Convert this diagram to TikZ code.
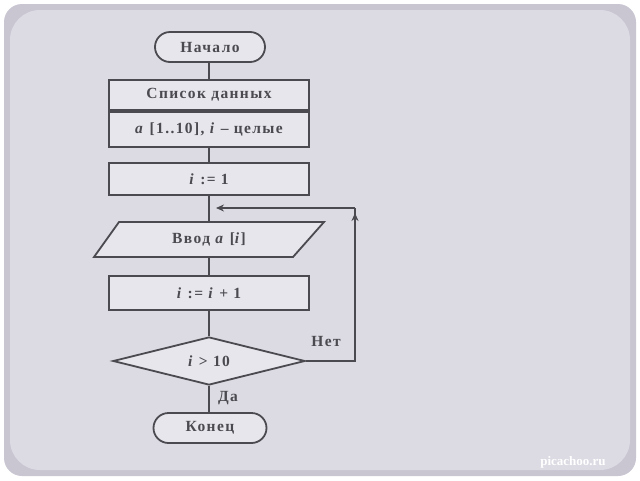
\documentclass[tikz,border=0pt]{standalone}
\usepackage{fontspec}
\setmainfont{Liberation Serif}
\usetikzlibrary{shapes.geometric,arrows.meta}
\definecolor{ink}{HTML}{4A4A50}
\definecolor{paper}{HTML}{DCDBE3}
\definecolor{boxfill}{HTML}{E6E6EC}
\definecolor{photo}{HTML}{C9C6D2}
\tikzset{
  lbl/.style={font=\fontsize{15.5}{18}\selectfont\bfseries\addfontfeature{LetterSpace=9}, text=ink},
  proc/.style={draw=ink, line width=1.8pt, fill=boxfill, minimum width=200pt, lbl},
  term/.style={draw=ink, line width=1.8pt, fill=boxfill, rounded corners=15pt, minimum height=30pt, lbl},
  dec/.style={draw=ink, line width=1.8pt, fill=boxfill, diamond, aspect=4, minimum width=192pt, minimum height=48pt, inner sep=0pt, lbl},
  shapeline/.style={draw=ink, line width=1.8pt, fill=boxfill},
  flow/.style={draw=ink, line width=1.6pt},
  arr/.style={flow, -{Stealth[length=8pt,width=7pt]}}
}
\begin{document}
\begin{tikzpicture}[x=1pt,y=-1pt]
\useasboundingbox (0,0) rectangle (640,480);
\fill[white] (0,0) rectangle (640,480);
\fill[photo, rounded corners=18pt] (4,4) rectangle (636,476);
\fill[paper, rounded corners=30pt] (10,10) rectangle (630,470);
% nodes
\node[term, minimum width=110pt] (start) at (210,47) {Начало};
\node[proc, minimum height=30pt] (list1) at (209,95) {Список данных};
\node[proc, minimum height=35pt, anchor=north] (list2) at (list1.south) {\textit{a} [1..10], \textit{i} – целые};
\node[proc, minimum height=32pt] (init) at (209,179) {\textit{i} := 1};
\path[shapeline] (119,222) -- (324,222) -- (293,257) -- (94,257) -- cycle;
\node[lbl, minimum height=35pt] (input) at (209,239.5) {Ввод \textit{a} [\textit{i}]};
\node[proc, minimum height=34pt] (inc) at (209,293) {\textit{i} := \textit{i} + 1};
\node[dec] (cond) at (209,361) {\textit{i} > 10};
\node[term, minimum width=113pt] (stop) at (210,428) {Конец};
\coordinate (j) at (216,208);
\coordinate (r) at (355,361);
\coordinate (rt) at (355,208);
% connectors
\draw[flow] (start.south -| list1.north) -- (list1.north);
\draw[flow] (list2.south) -- (init.north);
\draw[flow] (init.south) -- (input.north);
\draw[flow] (input.south) -- (inc.north);
\draw[flow] (inc.south) -- (cond.north);
\draw[flow] (cond.south) -- (stop.north -| cond.south);
\draw[flow] (cond.east) -- (r) -- (rt);
\draw[arr] (r) -- (355,213);
\draw[arr] (rt) -- (j);
% labels
\node[lbl] (no) at (326,341) {Нет};
\node[lbl] (yes) at (228,398) {Да};
\node[font=\fontsize{13}{15}\selectfont\bfseries, text=white, draw=none] (wm) at (573,462) {picachoo.ru};
\end{tikzpicture}
\end{document}
